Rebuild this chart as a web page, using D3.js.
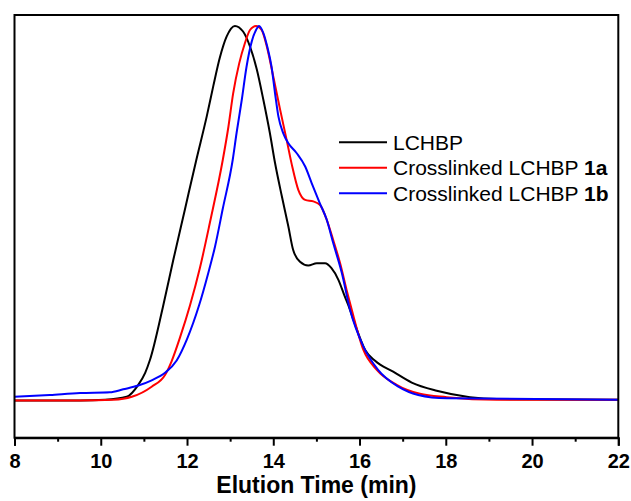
<!DOCTYPE html>
<meta charset="utf-8">
<html>

<head>
    <script src="https://d3js.org/d3.v7.min.js"></script>
    <style>
        body { margin: 0; background: #fff; }
        text { font-family: "Liberation Sans", Arial, sans-serif; }
    </style>
    <title>Elution profiles</title>
</head>

<body>
    <div id="chart"></div>

    <script>

        // elution time (min) and normalised detector signal
        var lchbpTime = [8, 9.52, 10.10, 10.60, 10.87, 11.03, 11.14, 11.44, 11.68, 11.95, 12.21, 12.46, 12.61, 12.76, 12.92, 13.11, 13.30, 13.46, 13.62, 13.77, 13.92, 14.04, 14.20, 14.35, 14.46, 14.62, 14.81, 15.01, 15.20, 15.35, 15.51, 15.66, 15.78, 15.86, 16.13, 16.36, 16.78, 17.21, 17.79, 18.56, 19.18, 22];
        var lchbpSignal = [0.001, 0.001, 0.003, 0.011, 0.043, 0.075, 0.109, 0.25, 0.375, 0.51, 0.64, 0.76, 0.84, 0.915, 0.972, 1.0, 0.985, 0.945, 0.883, 0.803, 0.715, 0.635, 0.545, 0.465, 0.403, 0.371, 0.361, 0.367, 0.367, 0.354, 0.323, 0.278, 0.243, 0.216, 0.136, 0.107, 0.078, 0.049, 0.027, 0.010, 0.005, 0.003];

        var cl1aTime = [8, 9.52, 10.29, 10.72, 11.18, 11.49, 11.64, 11.84, 12.07, 12.30, 12.53, 12.83, 12.96, 13.07, 13.21, 13.34, 13.46, 13.60, 13.73, 13.85, 14.00, 14.16, 14.31, 14.43, 14.58, 14.74, 14.93, 15.08, 15.24, 15.39, 15.55, 15.70, 15.82, 16.09, 16.40, 16.86, 17.40, 18.02, 19.18, 22];
        var cl1aSignal = [0.001, 0.001, 0.003, 0.011, 0.038, 0.069, 0.105, 0.17, 0.255, 0.355, 0.475, 0.643, 0.731, 0.820, 0.900, 0.953, 0.989, 1.0, 0.989, 0.945, 0.865, 0.776, 0.696, 0.630, 0.563, 0.536, 0.532, 0.523, 0.483, 0.429, 0.367, 0.296, 0.243, 0.136, 0.083, 0.043, 0.019, 0.010, 0.003, 0.003];

        var cl1bTime = [8, 8.82, 9.52, 10.21, 10.52, 10.87, 11.18, 11.49, 11.76, 12.00, 12.28, 12.49, 12.65, 12.83, 13.06, 13.15, 13.27, 13.38, 13.50, 13.60, 13.67, 13.77, 13.86, 13.96, 14.04, 14.12, 14.23, 14.35, 14.54, 14.74, 14.89, 15.08, 15.24, 15.39, 15.59, 15.78, 16.09, 16.43, 16.90, 17.36, 18.02, 22];
        var cl1bSignal = [0.011, 0.016, 0.021, 0.023, 0.031, 0.041, 0.055, 0.075, 0.108, 0.165, 0.255, 0.340, 0.412, 0.513, 0.643, 0.715, 0.803, 0.891, 0.958, 0.989, 1.0, 0.981, 0.945, 0.891, 0.821, 0.758, 0.714, 0.687, 0.661, 0.625, 0.581, 0.527, 0.483, 0.421, 0.341, 0.243, 0.145, 0.083, 0.038, 0.016, 0.007, 0.003];

        var seriesNames = ["LCHBP", "Crosslinked LCHBP ", "Crosslinked LCHBP "];
        var seriesBold = ["", "1a", "1b"];
        var seriesColors = ["#000000", "#ff0000", "#0000ff"];

        var xTicks = [8, 10, 12, 14, 16, 18, 20, 22];
        var xMinorTicks = [9, 11, 13, 15, 17, 19, 21];

        // set the dimensions and margins of the graph
        var margin = { top: 15, right: 12.7, bottom: 63.3, left: 14.5 };
        var width = 631 - margin.left - margin.right;
        var height = 501 - margin.top - margin.bottom;

        var svg = d3.select("#chart")
            .append("svg")
            .attr("width", 631)
            .attr("height", 501)
            .append("g")
            .attr("transform", "translate(" + margin.left + "," + margin.top + ")");

        var x = d3.scaleLinear().domain([8, 22]).range([0, width]);
        var y = d3.scaleLinear().domain([-0.098, 1.029]).range([height, 0]);

        function zipSeries(t, s) {
            return t.map(function (d, i) { return { t: d, v: s[i] }; });
        }
        var series = [
            zipSeries(lchbpTime, lchbpSignal),
            zipSeries(cl1aTime, cl1aSignal),
            zipSeries(cl1bTime, cl1bSignal)
        ];

        var line = d3.line()
            .x(function (d) { return x(d.t); })
            .y(function (d) { return y(d.v); })
            .curve(d3.curveMonotoneX);

        // traces (drawn black first, blue on top)
        svg.selectAll(".trace")
            .data(series)
            .enter()
            .append("path")
            .attr("class", "trace")
            .attr("d", line)
            .attr("fill", "none")
            .attr("stroke", function (d, i) { return seriesColors[i]; })
            .attr("stroke-width", 2)
            .attr("stroke-linejoin", "round");

        // frame
        svg.append("rect")
            .attr("x", 0)
            .attr("y", 0)
            .attr("width", width)
            .attr("height", height)
            .attr("fill", "none")
            .attr("stroke", "#000")
            .attr("stroke-width", 2);

        // X axis, major ticks with labels
        var xAxis = svg.append("g")
            .attr("transform", "translate(0," + height + ")")
            .call(d3.axisBottom(x).tickValues(xTicks).tickSize(8).tickPadding(8).tickFormat(d3.format("d")));
        xAxis.select(".domain").attr("stroke-width", 2);
        xAxis.selectAll(".tick line").attr("stroke-width", 2);
        xAxis.selectAll(".tick text")
            .style("font-family", "'Liberation Sans', Arial, sans-serif")
            .style("font-size", "20px")
            .style("font-weight", "bold")
            .attr("fill", "#000");

        // minor ticks
        svg.append("g")
            .attr("transform", "translate(0," + height + ")")
            .call(d3.axisBottom(x).tickValues(xMinorTicks).tickSize(4).tickFormat(""))
            .call(function (g) { g.select(".domain").remove(); })
            .selectAll(".tick line").attr("stroke-width", 2);

        // axis title
        svg.append("text")
            .attr("x", width / 2)
            .attr("y", height + 55)
            .attr("text-anchor", "middle")
            .style("font-size", "23px")
            .style("font-weight", "bold")
            .text("Elution Time (min)");

        // legend
        var legend = svg.selectAll(".legend")
            .data(seriesNames)
            .enter()
            .append("g")
            .attr("class", "legend")
            .attr("transform", function (d, i) { return "translate(" + (339 - margin.left) + "," + (142.3 - margin.top + i * 25.5) + ")"; });

        legend.append("line")
            .attr("x1", 0)
            .attr("x2", 48)
            .attr("stroke", function (d, i) { return seriesColors[i]; })
            .attr("stroke-width", 2);

        var legendText = legend.append("text")
            .attr("x", 54)
            .attr("y", 7.5)
            .style("font-size", "21px");
        legendText.append("tspan").text(function (d) { return d; });
        legendText.append("tspan")
            .style("font-weight", "bold")
            .text(function (d, i) { return seriesBold[i]; });

    </script>

</body>

</html>
